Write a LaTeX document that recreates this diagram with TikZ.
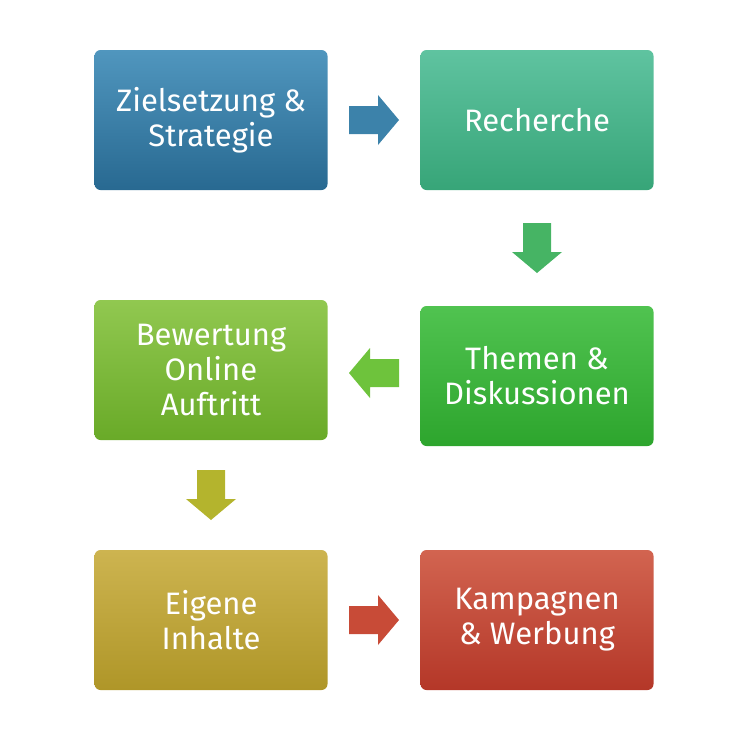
\documentclass[tikz,border=0pt]{standalone}
\usepackage{fontspec}
\setmainfont{Fira Sans}
\usetikzlibrary{calc}
\definecolor{aT}{RGB}{80,150,190}\definecolor{aB}{RGB}{40,105,145}
\definecolor{bT}{RGB}{95,195,160}\definecolor{bB}{RGB}{55,165,120}
\definecolor{cT}{RGB}{80,195,80}\definecolor{cB}{RGB}{45,165,45}
\definecolor{dT}{RGB}{145,200,80}\definecolor{dB}{RGB}{105,170,40}
\definecolor{eT}{RGB}{205,180,80}\definecolor{eB}{RGB}{175,150,40}
\definecolor{fT}{RGB}{210,100,80}\definecolor{fB}{RGB}{180,55,40}
\definecolor{abC}{RGB}{60,130,170}
\definecolor{bcC}{RGB}{70,180,100}
\definecolor{cdC}{RGB}{110,195,60}
\definecolor{deC}{RGB}{180,180,45}
\definecolor{efC}{RGB}{200,75,55}
\newcommand{\blockarrow}[3]{% center coord, rotation, colour
  \begin{scope}[shift={(#1)},rotate=#2]
    \fill[#3] (-25,-14) -- (4,-14) -- (4,-25) -- (25,0) -- (4,25) -- (4,14) -- (-25,14) -- cycle;
  \end{scope}}
\begin{document}
\begin{tikzpicture}[x=1pt,y=-1pt,
  box/.style={rounded corners=6pt,minimum width=233pt,minimum height=140pt,text=white,align=center,font=\fontsize{31}{35}\selectfont}]
\useasboundingbox (0,0) rectangle (750,750);
\node[box,top color=aT,bottom color=aB] (a) at (211,120) {Zielsetzung \&\\Strategie};
\node[box,top color=bT,bottom color=bB] (b) at (537,120) {Recherche};
\node[box,top color=cT,bottom color=cB] (c) at (537,376) {Themen \&\\Diskussionen};
\node[box,top color=dT,bottom color=dB] (d) at (211,370) {Bewertung\\Online\\Auftritt};
\node[box,top color=eT,bottom color=eB] (e) at (211,620) {Eigene\\Inhalte};
\node[box,top color=fT,bottom color=fB] (f) at (537,620) {Kampagnen\\\& Werbung};
\coordinate (ab) at ($(a.east)!0.5!(b.west)$);
\coordinate (bc) at ($(b.south)!0.5!(c.north)$);
\coordinate (cd) at ($(c.west)!0.5!(d.east)$);
\coordinate (de) at ($(d.south)!0.5!(e.north)$);
\coordinate (ef) at ($(e.east)!0.5!(f.west)$);
\blockarrow{ab}{0}{abC}
\blockarrow{bc}{-90}{bcC}
\blockarrow{cd}{180}{cdC}
\blockarrow{de}{-90}{deC}
\blockarrow{ef}{0}{efC}
\end{tikzpicture}
\end{document}
